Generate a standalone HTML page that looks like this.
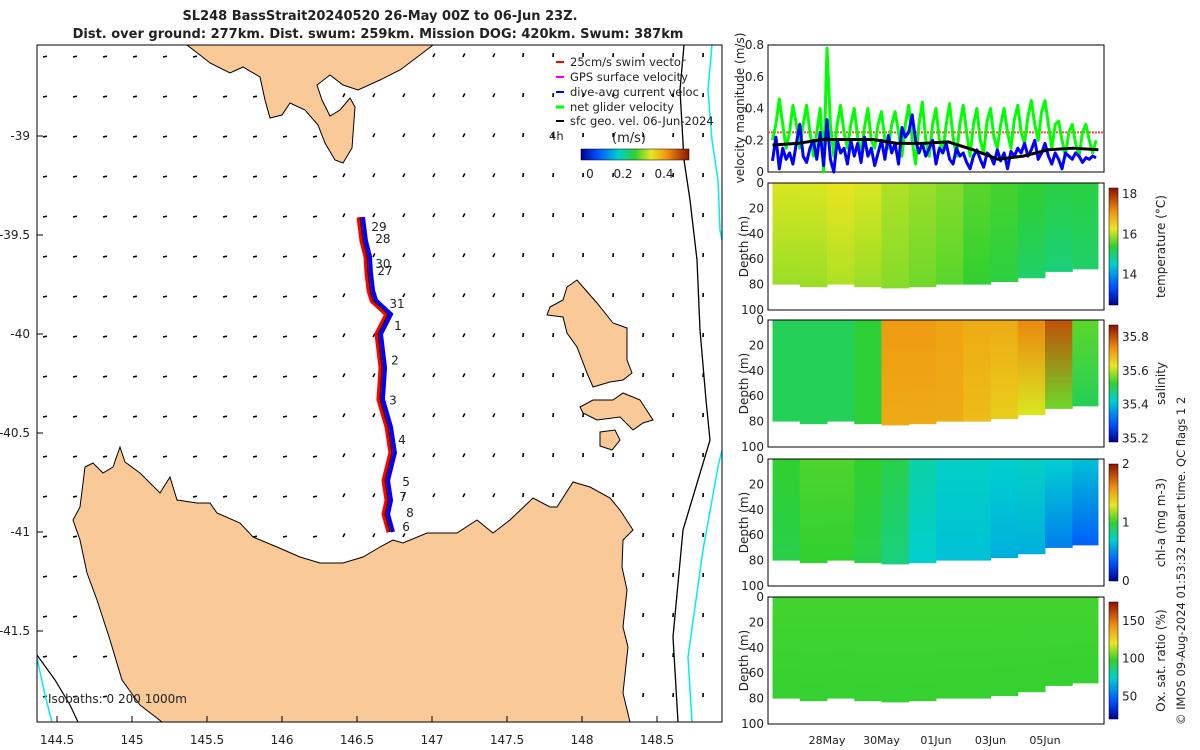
<!DOCTYPE html>
<html><head><meta charset="utf-8"><style>
body{margin:0;background:#fff;width:1200px;height:750px;overflow:hidden;font-family:"Liberation Sans",sans-serif}
svg{position:absolute;left:0;top:0}
text{font-family:"DejaVu Sans","Liberation Sans",sans-serif;font-size:12px;fill:#222}
</style></head><body>
<svg id="s" width="1200" height="750">
<text x="380" y="20" text-anchor="middle" style="font-weight:bold;font-size:13px">SL248 BassStrait20240520 26-May 00Z to 06-Jun 23Z.</text>
<text x="378" y="38" text-anchor="middle" style="font-weight:bold;font-size:13px">Dist. over ground: 277km. Dist. swum: 259km. Mission DOG: 420km. Swum: 387km</text>
<g id="map">
<clipPath id="mc"><rect x="37" y="45" width="685" height="677"/></clipPath>
<g clip-path="url(#mc)">
<g id="arrows"></g>
<path fill="#f9c997" stroke="#000" stroke-width="1" d="M187,45 L200,55 L210,63 L230,73 L243,67 L260,77 L265,100 L270,118 L282,115 L290,103 L305,110 L318,125 L325,143 L335,160 L343,163 L352,148 L355,107 L350,98 L340,110 L330,116 L322,100 L317,85 L330,75 L343,85 L358,90 L380,80 L400,70 L420,55 L433,45 Z"/>
<path fill="#f9c997" stroke="#000" stroke-width="1" d="M162,722 L140,705 L122,680 L110,640 L97,600 L87,573 L80,540 L73,520 L80,507 L85,467 L93,463 L103,473 L113,467 L120,447 L125,462 L140,473 L160,493 L170,477 L177,500 L197,503 L210,503 L217,513 L240,523 L253,537 L277,547 L300,557 L320,563 L343,563 L363,557 L380,547 L393,540 L403,543 L427,533 L457,533 L477,520 L493,533 L510,520 L533,498 L550,507 L557,507 L573,482 L590,487 L610,498 L620,510 L633,530 L623,540 L622,567 L627,590 L623,627 L628,647 L623,693 L630,722 Z"/>
<path fill="#f9c997" stroke="#000" stroke-width="1" d="M577,280 L567,287 L563,300 L550,307 L547,315 L563,317 L567,333 L577,347 L587,373 L593,387 L610,382 L623,380 L632,373 L627,360 L627,328 L613,323 L597,303 L583,287 Z"/>
<path fill="#f9c997" stroke="#000" stroke-width="1" d="M580,407 L593,400 L613,400 L623,393 L640,400 L653,420 L643,423 L633,430 L620,417 L597,420 L583,413 Z"/>
<path fill="#f9c997" stroke="#000" stroke-width="1" d="M600,432 L615,430 L620,440 L612,450 L600,446 Z"/>
<path fill="none" stroke="#000" stroke-width="1.3" d="M684,45 L680,90 L684,160 L690,200 L697,260 L700,330 L706,400 L710,440 L683,530 L673,637 L678,722"/>
<path fill="none" stroke="#0ee" stroke-width="1.5" d="M712,45 L708,90 L712,140 L718,180 L720,230 L722,240"/>
<path fill="none" stroke="#0ee" stroke-width="1.5" d="M722,450 L718,467 L703,550 L688,657 L692,722"/>
<path fill="none" stroke="#000" stroke-width="1.2" d="M37,655 L55,680 L70,705 L78,722"/>
<path fill="none" stroke="#0ee" stroke-width="1.5" d="M37,658 L45,695 L52,722"/>
<g id="track"></g>
</g>
<rect x="37" y="45" width="685" height="677" fill="none" stroke="#000"/>
<g id="mapticks"></g>
<text x="48" y="703">Isobaths: 0   200  1000m</text>
<g>
<line x1="556" y1="62" x2="564" y2="62" stroke="red" stroke-width="2"/><text x="570" y="66" style="font-size:11.5px">25cm/s swim vector</text>
<line x1="556" y1="77" x2="564" y2="77" stroke="#e0e" stroke-width="2"/><text x="570" y="81" style="font-size:11.5px">GPS surface velocity</text>
<line x1="556" y1="92" x2="564" y2="92" stroke="#00f" stroke-width="2"/><text x="570" y="96" style="font-size:11.5px">dive-avg current veloc</text>
<line x1="556" y1="107" x2="564" y2="107" stroke="#0f0" stroke-width="3"/><text x="570" y="111" style="font-size:11.5px">net glider velocity</text>
<line x1="556" y1="121" x2="564" y2="121" stroke="#000" stroke-width="2"/><text x="570" y="125" style="font-size:11.5px">sfc geo. vel. 06-Jun-2024</text>
<text x="549" y="140" style="font-size:11.5px">4h</text>
<text x="612" y="142" style="font-size:13px">(m/s)</text>
<defs><linearGradient id="jet" x1="0" x2="1"><stop offset="0" stop-color="#00008f"/><stop offset="0.15" stop-color="#0050ff"/><stop offset="0.35" stop-color="#00d0d0"/><stop offset="0.5" stop-color="#30d030"/><stop offset="0.65" stop-color="#e8e820"/><stop offset="0.8" stop-color="#f09010"/><stop offset="1" stop-color="#901000"/></linearGradient></defs>
<rect x="581" y="149" width="108" height="11" fill="url(#jet)" stroke="#000" stroke-width="0.5"/>
<text x="590" y="178" text-anchor="middle">0</text><text x="623" y="178" text-anchor="middle">0.2</text><text x="664" y="178" text-anchor="middle">0.4</text>
</g>
</g>
<g id="right"></g>
<text x="1185" y="725" transform="rotate(-90 1185 725)" style="font-size:11.5px">© IMOS 09-Aug-2024 01:53:32 Hobart time. QC flags 1  2</text>
</svg>
<script>
// ===== velocity data (3-hourly from 26 May 00Z) =====
const netGlider=[0.2,0.3,0.46,0.3,0.15,0.25,0.42,0.3,
0.15,0.3,0.42,0.25,0.1,0.25,0.4,0.0,
0.78,0.3,0.1,0.3,0.42,0.25,0.15,0.3,
0.4,0.22,0.12,0.28,0.4,0.2,0.15,0.3,
0.38,0.2,0.15,0.3,0.38,0.25,0.1,0.3,
0.42,0.2,0.05,0.3,0.44,0.2,0.1,0.3,
0.4,0.2,0.12,0.3,0.43,0.22,0.1,0.3,
0.42,0.25,0.1,0.3,0.4,0.2,0.12,0.32,
0.4,0.22,0.15,0.3,0.4,0.25,0.15,0.33,
0.42,0.25,0.18,0.35,0.45,0.3,0.2,0.38,
0.45,0.3,0.15,0.3,0.32,0.2,0.1,0.25,
0.3,0.18,0.1,0.25,0.3,0.2,0.12,0.2];
const diveAvg=[0.07,0.22,0.02,0.15,0.08,0.12,0.05,0.18,
0.3,0.1,0.06,0.15,0.2,0.08,0.25,0.04,
0.33,0.08,0.0,0.2,0.12,0.15,0.05,0.2,
0.1,0.18,0.06,0.22,0.1,0.15,0.04,0.12,
0.2,0.08,0.23,0.12,0.18,0.05,0.28,0.22,
0.25,0.36,0.2,0.12,0.18,0.1,0.15,0.2,
0.05,0.15,0.12,0.18,0.08,0.05,0.15,0.1,
0.12,0.06,0.02,0.1,0.14,0.08,0.03,0.12,
0.1,0.05,0.14,0.07,0.12,0.02,0.13,0.1,
0.15,0.12,0.18,0.1,0.14,0.2,0.08,0.12,
0.18,0.1,0.05,0.12,0.08,0.02,0.12,0.1,
0.08,0.12,0.1,0.06,0.09,0.08,0.1,0.09];
const sfcDaily=[0.17,0.18,0.205,0.205,0.205,0.18,0.18,0.19,0.14,0.08,0.1,0.14,0.15,0.14];
const dateLabels=["28May","30May","01Jun","03Jun","05Jun"];
const dateDays=[2,4,6,8,10];
const velTicks=[0,0.2,0.4,0.6,0.8];
// ===== section data (per-day columns) =====
const tempTop=[16.2,16.2,16.3,16.2,16.0,15.9,15.8,15.6,15.5,15.4,15.3,15.3];
const tempBot=[15.9,15.9,16.0,15.9,15.8,15.7,15.6,15.4,15.3,15.1,15.0,15.1];
const salTop=[35.5,35.5,35.5,35.52,35.72,35.72,35.71,35.7,35.7,35.74,35.8,35.55];
const salBot=[35.5,35.5,35.5,35.52,35.7,35.7,35.7,35.68,35.66,35.62,35.56,35.5];
const chlTop=[1.0,1.05,1.05,1.0,0.95,0.78,0.72,0.72,0.7,0.72,0.7,0.65];
const chlBot=[0.95,1.0,1.0,0.95,0.85,0.7,0.65,0.65,0.6,0.6,0.45,0.35];
const oxTop=[100,100,100,100,100,100,100,100,100,100,100,100];
const oxBot=[98,98,98,98,98,98,98,98,98,98,98,98];
const bottomDepth=[80,82,80,82,83,82,80,80,78,75,70,68];
// ===== track =====
const trackLon=[146.52,146.54,146.567,146.573,146.587,146.607,146.707,146.64,146.667,146.653,146.707,146.733,146.687,146.707,146.687,146.72];
const trackLat=[-39.41,-39.53,-39.61,-39.69,-39.78,-39.83,-39.9,-40.0,-40.17,-40.33,-40.47,-40.6,-40.74,-40.84,-40.91,-41.0];
const dayLabels=["29","28","30","27","31","1","2","3","4","5","7","8","6"];
const dayLon=[146.647,146.673,146.673,146.687,146.767,146.773,146.753,146.74,146.8,146.827,146.807,146.853,146.827];
const dayLat=[-39.455,-39.515,-39.641,-39.677,-39.843,-39.955,-40.13,-40.33,-40.53,-40.742,-40.818,-40.899,-40.97];
const lonTicks=[144.5,145,145.5,146,146.5,147,147.5,148,148.5];
const latTicks=[-39,-39.5,-40,-40.5,-41,-41.5];

const NS='http://www.w3.org/2000/svg';
function mk(t,a,p){const e=document.createElementNS(NS,t);for(const k in a)e.setAttribute(k,a[k]);(p||document.getElementById('s')).appendChild(e);return e;}
const lx=v=>57+(v-144.5)*150, ly=v=>136+(-39-v)*198;

const ag=document.getElementById('arrows');
for(let y=57;y<722;y+=40)for(let x=43;x<722;x+=30){
 const a=x<330?0.2:(x<520?1.1:1.5);
 const l=mk('line',{x1:x,y1:y,x2:x+4*Math.cos(a),y2:y-4*Math.sin(a),stroke:'#000','stroke-width':1.6},ag);
 
 
}
const tg=document.getElementById('track');
let pts=trackLon.map((v,i)=>lx(v)+','+ly(trackLat[i])).join(' ');
const tr=mk('polyline',{points:pts,fill:'none',stroke:'red','stroke-width':7},tg);


const tb=mk('polyline',{points:pts,fill:'none',stroke:'#00f','stroke-width':4,transform:'translate(3,0)'},tg);


const tk=mk('polyline',{points:pts,fill:'none',stroke:'#000','stroke-width':1},tg);


dayLabels.forEach((d,i)=>{const t=mk('text',{x:lx(dayLon[i]),y:ly(dayLat[i])+5,'text-anchor':'middle'},tg);t.textContent=d;
 
 });
const mt=document.getElementById('mapticks');
lonTicks.forEach(v=>{const t=mk('text',{x:lx(v),y:744,'text-anchor':'middle'},mt);t.textContent=v;
 
 
 mk('line',{x1:lx(v),x2:lx(v),y1:722,y2:716,stroke:'#000'},mt);});
latTicks.forEach(v=>{const t=mk('text',{x:30,y:ly(v)+4,'text-anchor':'end'},mt);t.textContent=v;
 
 
 mk('line',{x1:37,x2:43,y1:ly(v),y2:ly(v),stroke:'#000'},mt);});

const R=document.getElementById('right');
const X0=768,X1=1104;
const tx=d=>772.5+d*27.25;
const vy=v=>172-v*158.75;
const vb=mk('rect',{x:X0,y:45,width:X1-X0,height:127,fill:'#fff',stroke:'#000'},R);


velTicks.forEach(v=>{const t=mk('text',{x:764,y:vy(v)+4,'text-anchor':'end'},R);t.textContent=v;
 
 });
const ref=mk('line',{x1:X0,x2:X1,y1:vy(0.25),y2:vy(0.25),stroke:'#f44','stroke-dasharray':'2 1','stroke-width':2},R);


function line(arr,step,col,w,name){const p=mk('polyline',{points:arr.map((v,i)=>tx(i*step)+','+vy(v)).join(' '),fill:'none',stroke:col,'stroke-width':w,'stroke-linejoin':'round'},R);
 
 }
line(netGlider,0.125,'#0f0',3,'net-glider-line');
line(diveAvg,0.125,'#00f',3,'dive-avg-line');
line(sfcDaily,0.92,'#000',3,'sfc-geo-line');
const vl=mk('text',{x:744,y:108,'text-anchor':'middle',transform:'rotate(-90 744 108)'},R);vl.textContent='velocity magnitude (m/s)';



const stops=[[0,[0,0,143]],[0.15,[0,80,255]],[0.35,[0,208,208]],[0.5,[48,208,48]],[0.65,[232,232,32]],[0.8,[240,144,16]],[1,[144,16,0]]];
function cmap(f){f=Math.max(0,Math.min(1,f));for(let i=1;i<stops.length;i++){if(f<=stops[i][0]){const a=stops[i-1],b=stops[i],t=(f-a[0])/(b[0]-a[0]);return 'rgb('+a[1].map((c,k)=>Math.round(c+(b[1][k]-c)*t)).join(',')+')';}}}
const panels=[
 {y:183,top:tempTop,bot:tempBot,min:12.5,max:18.3,ticks:[14,16,18],lab:'temperature (°C)',name:'temperature'},
 {y:320,top:salTop,bot:salBot,min:35.18,max:35.87,ticks:[35.2,35.4,35.6,35.8],lab:'salinity',name:'salinity'},
 {y:459,top:chlTop,bot:chlBot,min:0,max:2,ticks:[0,1,2],lab:'chl-a (mg m-3)',name:'chl-a'},
 {y:597,top:oxTop,bot:oxBot,min:20,max:175,ticks:[50,100,150],lab:'Ox. sat. ratio (%)',name:'oxygen'}];
const H=127;
panels.forEach((P,pi)=>{
 const dy=d=>P.y+d/100*H;
 const defs=mk('defs',{},R);
 P.top.forEach((v,i)=>{
  const gid='g'+pi+'_'+i;
  const g=mk('linearGradient',{id:gid,x1:0,x2:0,y1:0,y2:1},defs);
  mk('stop',{offset:0,'stop-color':cmap((v-P.min)/(P.max-P.min))},g);
  mk('stop',{offset:1,'stop-color':cmap((P.bot[i]-P.min)/(P.max-P.min))},g);
  const x=Math.max(X0,tx(i)),x2=Math.min(1098,tx(i+1));
  const r=mk('rect',{x:x,y:P.y,width:x2-x+0.5,height:dy(bottomDepth[i])-P.y,fill:'url(#'+gid+')'},R);
  
  
 });
 const fr=mk('rect',{x:X0,y:P.y,width:X1-X0,height:H,fill:'none',stroke:'#000'},R);
 
 
 [0,20,40,60,80,100].forEach(d=>{const t=mk('text',{x:764,y:dy(d)+4,'text-anchor':'end'},R);t.textContent=d;
  
  });
 const yl=mk('text',{x:748,y:P.y+H/2,'text-anchor':'middle',transform:'rotate(-90 748 '+(P.y+H/2)+')'},R);yl.textContent='Depth (m)';
 
 
 const cd=mk('defs',{},R);const cg=mk('linearGradient',{id:'cb'+pi,x1:0,x2:0,y1:1,y2:0},cd);
 stops.forEach(s=>mk('stop',{offset:s[0],'stop-color':cmap(s[0])},cg));
 const cb=mk('rect',{x:1109,y:P.y+5,width:9,height:H-10,fill:'url(#cb'+pi+')',stroke:'#000','stroke-width':0.5},R);
 
 
 P.ticks.forEach(v=>{const yy=P.y+H-5-(v-P.min)/(P.max-P.min)*(H-10);const t=mk('text',{x:1122,y:yy+4},R);t.textContent=v;
  
  });
 const cl=mk('text',{x:1165,y:P.y+H/2,'text-anchor':'middle',transform:'rotate(-90 1165 '+(P.y+H/2)+')'},R);cl.textContent=P.lab;
 
 
});
dateLabels.forEach((d,i)=>{const t=mk('text',{x:tx(dateDays[i]),y:744,'text-anchor':'middle',style:'font-size:11px'},R);t.textContent=d;
 
 });
</script>
</body></html>
